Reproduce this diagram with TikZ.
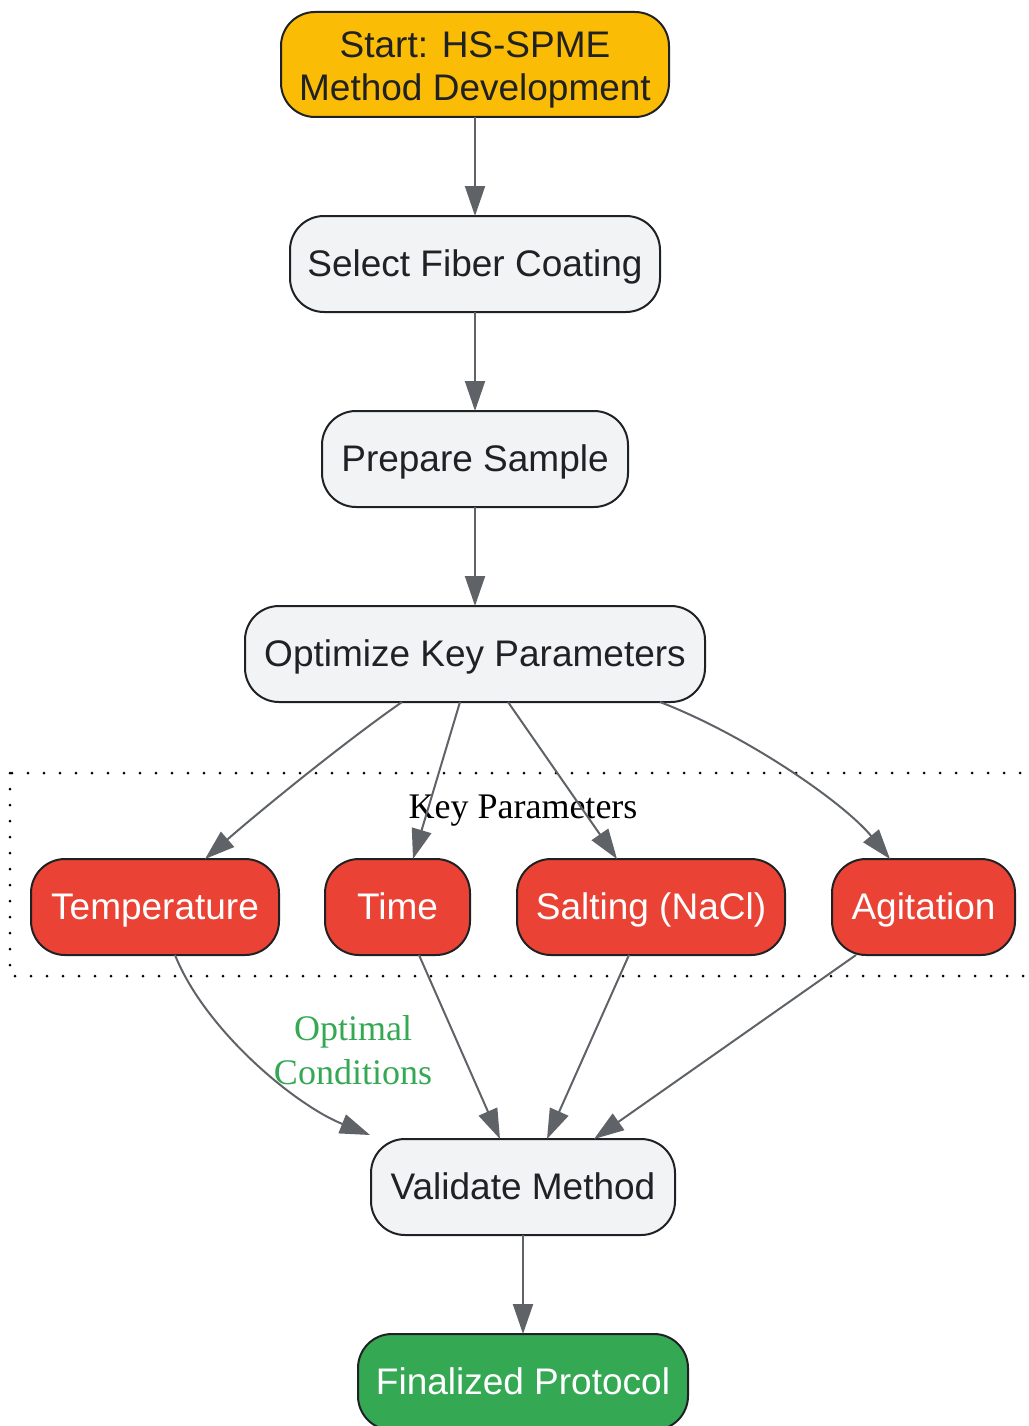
\documentclass[tikz,border=0pt]{standalone}
\usepackage{fontspec}
\setmainfont{Liberation Serif}
\setsansfont{Liberation Sans}
\usetikzlibrary{arrows.meta,positioning}
\definecolor{startyellow}{HTML}{FBBC05}
\definecolor{stepgray}{HTML}{F1F3F4}
\definecolor{paramred}{HTML}{EA4335}
\definecolor{donegreen}{HTML}{34A853}
\definecolor{edgegray}{HTML}{5F6368}
\definecolor{inkdark}{HTML}{202124}
\tikzstyle{box} = [draw=inkdark,line width=2pt,rectangle,rounded corners=34pt,inner xsep=0pt,inner ysep=0pt,outer sep=0pt,minimum height=96pt,font=\sffamily\fontsize{37}{43}\selectfont,align=center]
\tikzstyle{oneline} = [box,text height=33pt,text depth=9pt]
\tikzstyle{startbox} = [box,fill=startyellow,text=inkdark,minimum height=105pt]
\tikzstyle{stepbox} = [oneline,fill=stepgray,text=inkdark]
\tikzstyle{parambox} = [oneline,fill=paramred,text=white]
\tikzstyle{endbox} = [oneline,fill=donegreen,text=white]
\tikzstyle{flow} = [-{Triangle[length=30pt,width=20pt]},draw=edgegray,line width=2pt]
\tikzstyle{cluster} = [draw=black,line width=3pt,line cap=round,dash pattern=on 0pt off 16pt]
\tikzstyle{lbl} = [font=\rmfamily\fontsize{36}{44}\selectfont,align=center,inner sep=0pt]

\begin{document}
\begin{tikzpicture}[x=1pt,y=-1pt,node distance=99pt]
      \useasboundingbox (0,0) rectangle (1028,1426);
      % parameter group
      \draw[cluster] (10,773) rectangle (1040,976);
      \node[lbl,anchor=base] (keylbl) at (523,818) {Key Parameters};
      % main chain
      \node[startbox,minimum width=388pt] (start) at (475,64.5) {\rule{0pt}{36pt}Start: HS-SPME\\Method Development};
      \node[stepbox,minimum width=370pt,below=of start] (fiber) {Select Fiber Coating};
      \node[stepbox,minimum width=306pt,below=of fiber] (prep) {Prepare Sample};
      \node[stepbox,minimum width=460pt,below=of prep] (opt) {Optimize Key Parameters};
      % parameters
      \node[parambox,minimum width=248pt] (temp) at (155,907) {Temperature};
      \node[parambox,minimum width=145pt] (time) at (397.5,907) {Time};
      \node[parambox,minimum width=268pt] (salt) at (651,907) {Salting (NaCl)};
      \node[parambox,minimum width=183pt] (agit) at (923.5,907) {Agitation};
      \node[stepbox,minimum width=304pt] (valid) at (523,1187) {Validate Method};
      \node[endbox,minimum width=330pt,below=of valid] (final) {Finalized Protocol};
      \node[lbl,text=donegreen] (optlbl) at (353,1050) {Optimal\\Conditions};
      % edges
      \draw[flow] (start) -- (fiber);
      \draw[flow] (fiber) -- (prep);
      \draw[flow] (prep) -- (opt);
      \draw[flow] ([xshift=-73pt]opt.south) .. controls +(-60,42) and +(55,-48) .. ([xshift=50pt]temp.north);
      \draw[flow] ([xshift=-15pt]opt.south) -- ([xshift=15.5pt]time.north);
      \draw[flow] ([xshift=33pt]opt.south) -- ([xshift=-34pt]salt.north);
      \draw[flow] ([xshift=185pt]opt.south) .. controls +(90,35) and +(-45,-55) .. ([xshift=-33.5pt]agit.north);
      \draw[flow] ([xshift=20pt]temp.south) .. controls +(30,75) and +(-75,-30) .. ([xshift=-153pt,yshift=4pt]valid.north);
      \draw[flow] ([xshift=21.5pt]time.south) -- ([xshift=-23pt]valid.north);
      \draw[flow] ([xshift=-22pt]salt.south) -- ([xshift=24pt]valid.north);
      \draw[flow] ([xshift=-67.5pt]agit.south) -- ([xshift=71pt]valid.north);
      \draw[flow] (valid) -- (final);
\end{tikzpicture}
\end{document}
